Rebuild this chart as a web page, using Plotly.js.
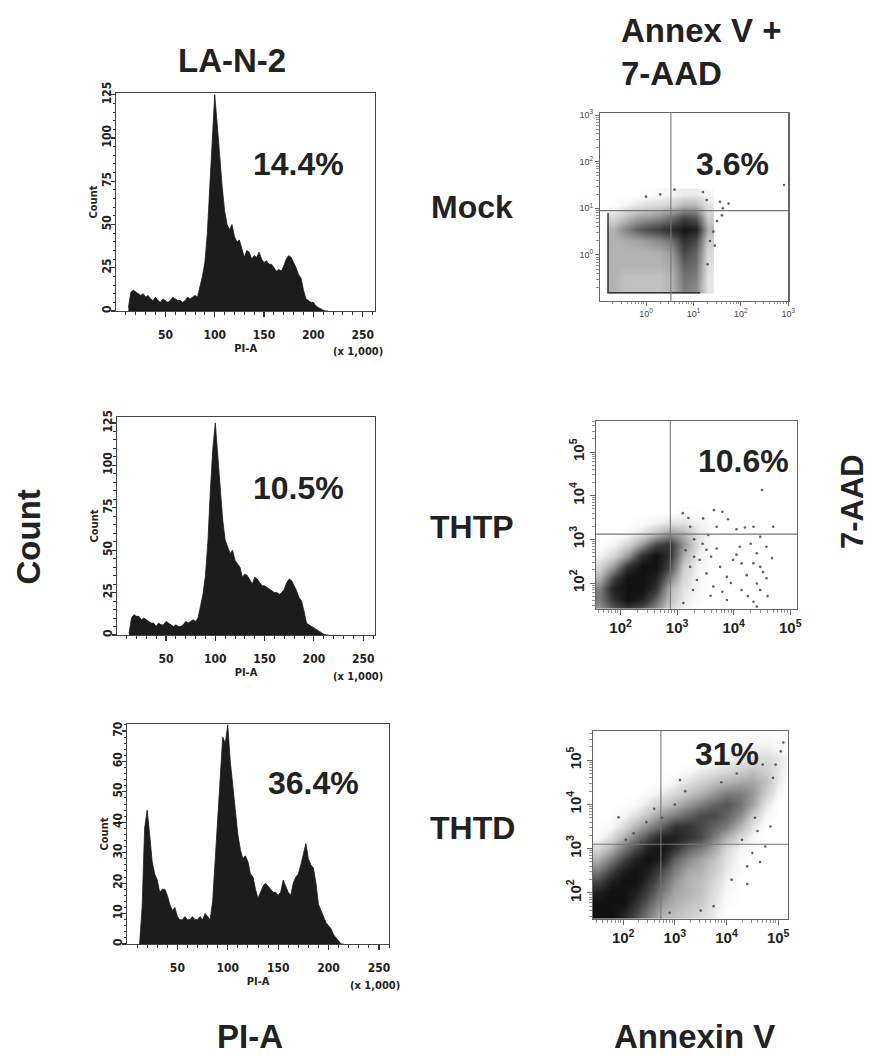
<!DOCTYPE html>
<html><head><meta charset="utf-8">
<script src="https://cdn.plot.ly/plotly-3.0.1.min.js"></script>
<style>html,body{margin:0;padding:0;background:#fff}#chart{width:872px;height:1059px}</style>
</head><body><div id="chart"></div>
<script>
// ---------- DATA ----------
const piBins = [12.5,15,17.5,20,22.5,25,27.5,30,32.5,35,37.5,40,42.5,45,47.5,50,52.5,55,57.5,60,62.5,65,67.5,70,72.5,75,77.5,80,82.5,85,87.5,90,92.5,95,97.5,100,102.5,105,107.5,110,112.5,115,117.5,120,122.5,125,127.5,130,132.5,135,137.5,140,142.5,145,147.5,150,152.5,155,157.5,160,162.5,165,167.5,170,172.5,175,177.5,180,182.5,185,187.5,190,192.5,195,197.5,200,202.5,205,207.5,210,212.5,215];
const countMock = [2,11,12,11,10,9,10,8,9,7,6,8,6,5,7,6,5,6,8,7,6,6,5,6,8,7,8,9,8,
  14,20,28,45,72,100,125,108,88,72,58,50,47,50,43,40,41,36,31,35,34,30,32,31,34,30,28,29,27,27,25,23,24,23,26,30,32,31,28,25,21,19,12,7,6,5,5,3,2,1,0.5,0,0];
const countTHTP = [1,10,12,11,11,9,10,9,8,7,7,5,7,6,6,8,7,6,5,6,5,5,6,8,7,8,9,8,10,
  17,24,35,55,85,110,125,105,85,68,56,52,48,50,44,42,40,34,36,35,32,30,34,33,31,29,29,28,27,26,25,25,24,25,27,31,33,32,29,26,22,20,14,7,6,5,4,3,2,1,0.5,0,0];
const countTHTD = [0,12,38,44,36,27,23,21,17,18,18,16,13,11,12,9,8,8,9,8,8,9,8,8,9,8,10,9,8,
  14,28,39,55,68,66,72,60,52,46,36,31,28,29,27,23,22,18,15,17,19,20,19,18,17,17,16,17,21,19,17,16,20,22,23,26,30,33,28,26,25,20,13,11,9,7,6,5,3,2,1,0,0];
const histPercent = ['14.4%','10.5%','36.4%'];
const rowLabels = ['Mock','THTP','THTD'];
const scatterPercent = ['3.6%','10.6%','31%'];

// log10 units for Annexin V (x) / 7-AAD (y)
const mockGridX = [-0.7,-0.45,-0.2,0.05,0.3,0.55,0.8,1.05,1.3];
const mockGridY = [-0.7,-0.45,-0.2,0.05,0.3,0.55,0.8,1.05,1.3];
const mockDensity = [
  [3,2.5,2.5,2.5,2.5,3,5,4.5,1],
  [3,2.5,2.5,2.5,2.5,3,5.5,5,1],
  [3,3,3,3,3,3.5,6,5.5,1.2],
  [3,3,3,3,3.2,4,7,6,1.5],
  [3,3.2,3.5,4,4.5,5.5,8,7,2],
  [3,4.5,6,7,7.5,8.5,9.5,9,3],
  [1.5,2.5,3.5,4,4.5,5.5,7,6.5,2],
  [0,0.5,1,1.3,1.5,2,3,3,1],
  [0,0,0,0.2,0.3,0.5,0.8,0.8,0.3]
];
const mockOutX = [1.28,1.56,1.74,1.62,1.5,1.42,2.91,1.35,1.6,1.2,1.45,1.3,0.3,0.0,0.6];
const mockOutY = [1.18,1.14,1.10,1.0,0.73,0.5,1.5,0.3,0.85,1.35,0.2,-0.2,1.3,1.25,1.4];
const mockEdgeX = [-0.8,-0.8,1.14];
const mockEdgeY = [0.9,-0.81,-0.81];

const thtpGridX = [1.625,1.875,2.125,2.375,2.625,2.875,3.125,3.375,3.625];
const thtpGridY = [1.375,1.625,1.875,2.125,2.375,2.625,2.875,3.125,3.375,3.625];
const thtpDensity = [
  [4,6,7,6,4,1.5,0.5,0,0],
  [5,8,10,9,6,2.5,0.8,0.2,0],
  [5,9,10,10,8,3,1,0.3,0],
  [3,7,10,10,9,5,1.5,0.4,0],
  [1.5,4,8,10,10,7,2,0.5,0],
  [0.5,1.5,4,8,10,8,3,0.6,0],
  [0,0.5,1.5,4,7,8,4,1,0.2],
  [0,0,0.3,1,2.5,4,3,1,0.2],
  [0,0,0,0.2,0.5,1,1,0.5,0.1],
  [0,0,0,0,0,0,0.2,0.1,0]
];
const thtpOutX = [4.50,3.65,3.80,3.90,3.46,3.20,4.70,4.35,4.20,4.05,3.70,3.52,3.70,4.11,4.41,4.47,4.58,3.99,4.14,4.35,4.47,4.68,3.76,3.52,3.88,4.23,4.41,4.58,4.14,4.47,4.35,4.41,3.28,3.40,3.23,3.35,3.64,3.11,3.88,3.59,3.23,3.3,3.45,3.6,3.95,4.25,4.6,4.05,3.8,3.15,3.3,4.3,4.52,3.55,3.1];
const thtpOutY = [4.13,3.67,3.63,3.46,3.48,3.49,3.29,3.29,3.27,3.23,3.29,2.76,2.79,2.83,2.68,3.06,2.83,2.53,2.45,2.45,2.37,2.57,2.37,2.22,2.14,2.18,1.99,2.11,1.84,1.84,1.57,1.46,1.84,2.53,2.37,2.07,1.92,1.54,1.61,1.71,3.29,3.0,2.9,2.6,2.0,1.7,1.7,2.65,1.8,2.75,2.6,2.9,2.25,3.1,3.6];

const thtdGridX = [1.5,1.75,2.0,2.25,2.5,2.75,3.0,3.25,3.5,3.75,4.0,4.25,4.5,4.75,5.0,5.25];
const thtdGridY = [1.5,1.75,2.0,2.25,2.5,2.75,3.0,3.25,3.5,3.75,4.0,4.25,4.5,4.75,5.0,5.25,5.5];
const thtdDensity = [
  [10,10,9,7,5,3,2.5,2,1.5,0.8,0,0,0,0,0,0],
  [10,10,10,8,6,4,3,2.5,2,1,0.2,0,0,0,0,0],
  [9,10,10,9,7,5,3.5,3,2.5,1.2,0.3,0,0,0,0,0],
  [7,9,10,10,8,6,4,3,2.5,1.5,0.5,0,0,0,0,0],
  [5,7,9,10,9,7,5,3.5,3,2,0.8,0.2,0,0,0,0],
  [3,5,7,9,10,9,6,4.5,3.5,2.5,1,0.3,0,0,0,0],
  [1.5,3,5,7,9,10,8,6,5,3.5,1.5,0.5,0,0,0,0],
  [0.3,1.2,3,5,7,9,9,8,7,5,3,1.5,0.4,0,0,0],
  [0,0.3,1.2,3,4.5,6,8,8,7,6,5,3,1,0,0,0],
  [0,0,0.4,1.2,2.5,4,5,6,7,7,6,4.5,2,0.4,0,0],
  [0,0,0,0.3,1,2,3,4,5,6,6.5,5.5,3.5,1,0,0],
  [0,0,0,0,0.3,0.8,1.5,2.3,3,4,5,5,4,2,0.4,0],
  [0,0,0,0,0,0,0.5,1.2,1.8,2.5,3,3.5,3.5,2.5,0.8,0],
  [0,0,0,0,0,0,0,0.3,0.8,1.2,1.5,2,2.5,2,1,0],
  [0,0,0,0,0,0,0,0,0,0.3,0.6,1,1.3,1.5,1,0.3],
  [0,0,0,0,0,0,0,0,0,0,0.2,0.5,0.7,0.8,0.5,0],
  [0,0,0,0,0,0,0,0,0,0,0,0.2,0.3,0.3,0.2,0]
];
const thtdOutX = [1.91,2.2,2.45,2.6,2.35,2.05,2.75,3.0,3.2,3.1,4.3,4.5,4.6,4.75,4.85,4.4,4.65,4.95,5.05,5.1,4.9,4.7,4.2,3.9,4.1,4.4,3.75,3.5,2.9,4.55];
const thtdOutY = [3.71,3.35,3.6,3.9,3.15,3.2,3.7,4.0,4.3,4.55,3.2,2.9,3.4,3.05,3.5,2.6,2.7,4.9,5.2,5.4,4.6,4.9,4.7,4.5,2.3,2.2,1.7,1.6,1.55,3.7];

const gateX = [0.525, 2.88, 2.73];
const gateY = [0.95, 3.12, 3.1];
const mockTickVals = [0,1,2,3];
const mockTickText = ['10<sup>0</sup>','10<sup>1</sup>','10<sup>2</sup>','10<sup>3</sup>'];
const drugTickVals = [2,3,4,5];
const drugTickText = ['10<sup>2</sup>','10<sup>3</sup>','10<sup>4</sup>','10<sup>5</sup>'];

// ---------- LAYOUT HELPERS ----------
const W = 872, H = 1059;
const dx = (a,b) => [a/W, b/W];
const dy = (top,bottom) => [1-bottom/H, 1-top/H];
const NARROW = 'Liberation Sans Narrow, DejaVu Sans Condensed, Arial Narrow, Liberation Sans, sans-serif';
const SANS = 'Liberation Sans, Arial, Helvetica, sans-serif';
const INK = '#222';

function histX(dom, anchor, r1){
  return {domain: dx(dom[0],dom[1]), anchor, range:[0.3, r1], tick0:0, dtick:50,
    ticks:'outside', ticklen:5, tickwidth:1.2, tickcolor:'#333', ticklabelstandoff:7,
    showline:true, mirror:true, linecolor:'#444', linewidth:1.3, showgrid:false, zeroline:false,
    tickfont:{family:NARROW, size:12, weight:'bold', color:INK},
    minor:{dtick:10, tick0:0, ticks:'outside', ticklen:3, tickcolor:'#333', tickwidth:1, showgrid:false},
    title:{text:'PI-A', font:{family:NARROW, size:11, weight:'bold', color:INK}, standoff:3}};
}
function histY(dom, anchor, r1, dt, mdt){
  return {domain: dy(dom[0],dom[1]), anchor, range:[0, r1], tick0:0, dtick:dt,
    ticks:'outside', ticklen:4, tickwidth:1.2, tickcolor:'#333', tickangle:-90, ticklabelstandoff:-5,
    showline:true, mirror:true, linecolor:'#444', linewidth:1.3, showgrid:false, zeroline:false,
    tickfont:{family:NARROW, size:12, weight:'bold', color:INK},
    minor:{dtick:mdt, tick0:0, ticks:'outside', ticklen:2.5, tickcolor:'#333', tickwidth:1, showgrid:false},
    title:{text:'Count', font:{family:NARROW, size:11, weight:'bold', color:INK}, standoff:0}};
}
function minorLog(r0, r1){
  const v = [];
  for(let d=Math.floor(r0); d<=Math.ceil(r1); d++){
    for(let k=2;k<=9;k++){ const t = d+Math.log10(k); if(t>r0 && t<r1) v.push(t); }
  }
  return v;
}
function scatAx(dom, anchor, rng, vals, txt, isY, big, isVertical){
  const o = {anchor, range:rng, tickmode:'array', tickvals:vals, ticktext:txt,
    ticks:'outside', ticklen: big?5:4, tickwidth:1, tickcolor:'#666',
    showline:true, mirror:true, linecolor:'#666', linewidth:1.2, showgrid:false, zeroline:false,
    tickfont: big ? {family:SANS, size:15, weight:'bold', color:INK} : {family:SANS, size:9, color:'#444'},
    minor:{tickmode:'array', tickvals:minorLog(rng[0], rng[1]), ticks:'outside', ticklen: big?3:2.5, tickcolor:'#777', tickwidth:0.8, showgrid:false}};
  if(isY){ o.domain = dy(dom[0],dom[1]); if(isVertical) o.tickangle = -90; }
  else { o.domain = dx(dom[0],dom[1]); }
  return o;
}

// ---------- TRACES ----------
const histData = [countMock, countTHTP, countTHTD];
const traces = [];
histData.forEach((c,i)=>{
  const s = i===0 ? '' : String(i+1);
  traces.push({type:'scatter', mode:'lines', x:piBins, y:c, xaxis:'x'+s, yaxis:'y'+s,
    fill:'tozeroy', fillcolor:'#1c1c1c', line:{color:'#1c1c1c', width:0.8}, hoverinfo:'skip'});
});
const grey = [[0,'#ffffff'],[0.05,'#f5f5f5'],[0.1,'#e4e4e4'],[0.25,'#c0c0c0'],[0.5,'#7c7c7c'],[0.75,'#3c3c3c'],[0.9,'#202020'],[1,'#111111']];
const scat = [
  {gx:mockGridX, gy:mockGridY, z:mockDensity, ox:mockOutX, oy:mockOutY},
  {gx:thtpGridX, gy:thtpGridY, z:thtpDensity, ox:thtpOutX, oy:thtpOutY},
  {gx:thtdGridX, gy:thtdGridY, z:thtdDensity, ox:thtdOutX, oy:thtdOutY}
];
scat.forEach((d,i)=>{
  const s = String(i+4);
  traces.push({type:'heatmap', x:d.gx, y:d.gy, z:d.z, xaxis:'x'+s, yaxis:'y'+s,
    zsmooth:'best', colorscale:grey, zmin:0, zmax:10, showscale:false, hoverinfo:'skip'});
  traces.push({type:'scatter', mode:'markers', x:d.ox, y:d.oy, xaxis:'x'+s, yaxis:'y'+s,
    marker:{size:2.6, color:'#444', opacity:0.85}, hoverinfo:'skip'});
});
traces.push({type:'scatter', mode:'lines', x:mockEdgeX, y:mockEdgeY, xaxis:'x4', yaxis:'y4',
  line:{color:'#333', width:1.4}, hoverinfo:'skip'});

// ---------- LAYOUT ----------
const scatDom = [
  {x:[600,788.3], y:[112.7,300.7], rx:[-0.97,3], ry:[-0.98,3.05]},
  {x:[595.7,797], y:[421,609], rx:[1.56,5.12], ry:[1.405,5.71]},
  {x:[592.7,788], y:[731,919], rx:[1.41,5.19], ry:[1.41,5.66]}
];
const layout = {
  width:W, height:H, margin:{l:0,r:0,t:0,b:0}, paper_bgcolor:'#fff', plot_bgcolor:'#fff',
  showlegend:false,
  xaxis: histX([116.4,375],'y',262.5),  yaxis: histY([93,311],'x',126,25,5),
  xaxis2: histX([117,375],'y2',262),    yaxis2: histY([417,635],'x2',128.5,25,5),
  xaxis3: histX([127.3,389],'y3',260),  yaxis3: histY([724,944],'x3',72.3,10,2),
  xaxis4: scatAx(scatDom[0].x,'y4',scatDom[0].rx,mockTickVals,mockTickText,false,false),
  yaxis4: scatAx(scatDom[0].y,'x4',scatDom[0].ry,mockTickVals,mockTickText,true,false,false),
  xaxis5: scatAx(scatDom[1].x,'y5',scatDom[1].rx,drugTickVals,drugTickText,false,true),
  yaxis5: scatAx(scatDom[1].y,'x5',scatDom[1].ry,drugTickVals,drugTickText,true,true,true),
  xaxis6: scatAx(scatDom[2].x,'y6',scatDom[2].rx,drugTickVals,drugTickText,false,true),
  yaxis6: scatAx(scatDom[2].y,'x6',scatDom[2].ry,drugTickVals,drugTickText,true,true,true),
  shapes: [], annotations: []
};
[0,1,2].forEach(i=>{
  const s = String(i+4);
  layout.shapes.push({type:'line', xref:'x'+s, yref:'y'+s+' domain', x0:gateX[i], x1:gateX[i], y0:0, y1:1, line:{color:'#777', width:1.1}});
  layout.shapes.push({type:'line', xref:'x'+s+' domain', yref:'y'+s, x0:0, x1:1, y0:gateY[i], y1:gateY[i], line:{color:'#777', width:1.1}});
});
function ann(text, px, py, size, opts){
  layout.annotations.push(Object.assign({text, x:px/W, y:1-py/H, xref:'paper', yref:'paper',
    showarrow:false, xanchor:'center', yanchor:'middle',
    font:{family:SANS, size, weight:'bold', color:INK}}, opts||{}));
}
ann('LA-N-2', 231.7, 61, 33);
ann('Annex V +<br>7-AAD', 619, 52, 33, {xanchor:'left', align:'left'});
const rowY = [207, 527, 828];
rowLabels.forEach((t,i)=>ann(t, 472, rowY[i], 32));
const hpX = [298, 298, 313], hpY = [164, 488, 783];
histPercent.forEach((t,i)=>ann(t, hpX[i], hpY[i], 32));
const spX = [732, 743, 727], spY = [164, 461, 754];
scatterPercent.forEach((t,i)=>ann(t, spX[i], spY[i], 32));
ann('Count', 27.5, 537, 33, {textangle:-90});
ann('7-AAD', 852, 502, 31, {textangle:-90});
ann('PI-A', 250, 1036, 33);
ann('Annexin V', 694, 1036, 33);
const kX = [358, 358, 375], kY = [352, 676, 985];
kX.forEach((x,i)=>ann('(x 1,000)', x, kY[i], 11, {font:{family:NARROW, size:11, weight:'bold', color:INK}}));

Plotly.newPlot('chart', traces, layout, {displayModeBar:false, staticPlot:true});
</script></body></html>
